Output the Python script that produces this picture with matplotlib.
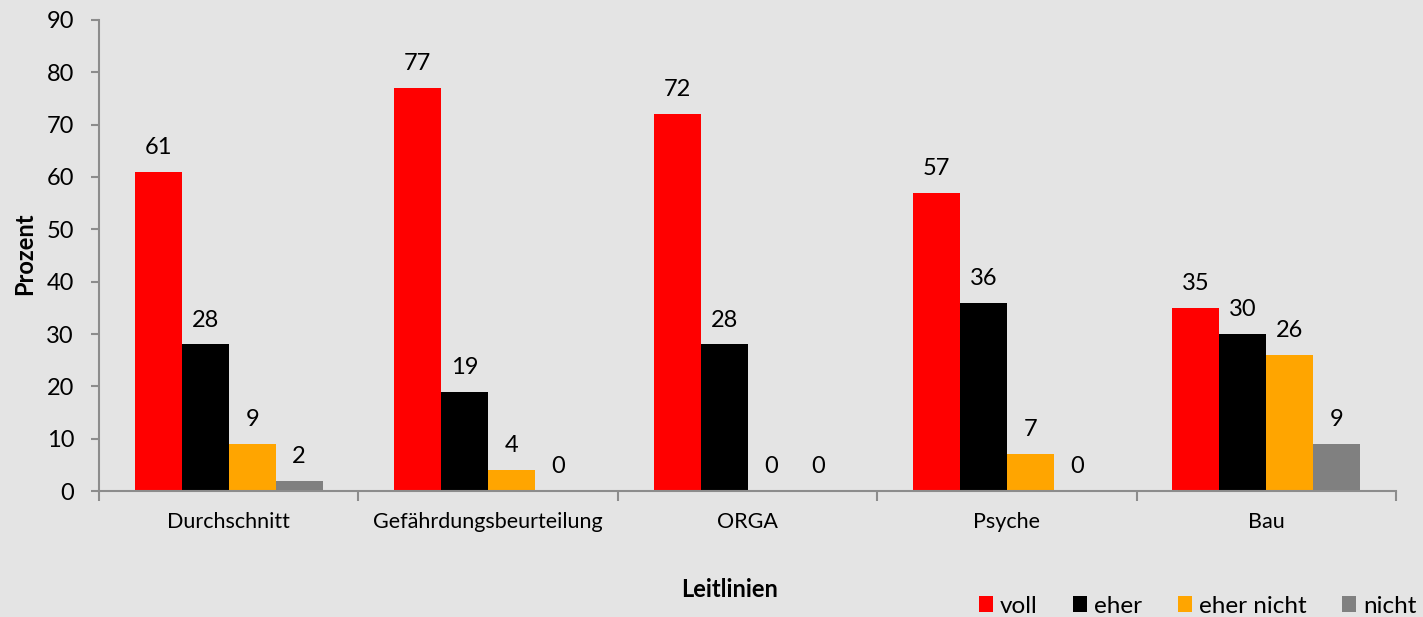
import matplotlib
matplotlib.use('Agg')
import matplotlib.pyplot as plt
import numpy as np
from matplotlib.patches import Patch

# data
categories = ['Durchschnitt', 'Gefährdungsbeurteilung', 'ORGA', 'Psyche', 'Bau']
series_names = ['voll', 'eher', 'eher nicht', 'nicht']
voll = [61, 77, 72, 57, 35]
eher = [28, 19, 28, 36, 30]
eher_nicht = [9, 4, 0, 7, 26]
nicht = [2, 0, 0, 0, 9]
series_colors = ['#ff0000', '#000000', '#ffa500', '#808080']

BG = '#e4e4e4'
AXIS_COLOR = '#8c8c8c'
FONT = ['Lato', 'DejaVu Sans']

plt.rcParams['font.family'] = FONT

fig = plt.figure(figsize=(14.23, 6.17), dpi=100, facecolor=BG)
ax = fig.add_axes([0.0696, 0.2042, 0.9114, 0.7634], facecolor=BG)

x = np.arange(len(categories))
bar_w = 0.181
all_series = [voll, eher, eher_nicht, nicht]
for i, (vals, color) in enumerate(zip(all_series, series_colors)):
    pos = x + (i - 1.5) * bar_w
    ax.bar(pos, vals, width=bar_w, color=color, edgecolor='none', zorder=2)
    for px, v in zip(pos, vals):
        ax.annotate(str(v), (px, v), xytext=(0, 10), textcoords='offset points',
                    ha='center', va='bottom', fontsize=17, color='black')

ax.set_xlim(-0.5, len(categories) - 0.5)
ax.set_ylim(0, 90)
ax.set_yticks(range(0, 91, 10))
ax.tick_params(axis='y', labelsize=17, length=6, width=1.5, color=AXIS_COLOR, pad=12)

# category ticks sit between groups
ax.set_xticks(np.arange(-0.5, len(categories), 1.0))
ax.set_xticklabels([])
ax.set_xticks(x, minor=True)
ax.set_xticklabels(categories, minor=True, fontsize=15.5)
ax.tick_params(axis='x', which='major', length=7, width=1.5, color=AXIS_COLOR)
ax.tick_params(axis='x', which='minor', length=0, pad=15)

for side in ['top', 'right']:
    ax.spines[side].set_visible(False)
for side in ['left', 'bottom']:
    ax.spines[side].set_color(AXIS_COLOR)
    ax.spines[side].set_linewidth(1.5)

fig.text(0.0172, 0.588, 'Prozent', rotation=90, ha='center', va='center',
         fontsize=17, fontweight='bold')
fig.text(0.513, 0.044, 'Leitlinien', ha='center', va='center',
         fontsize=17, fontweight='bold')

handles = [Patch(facecolor=c, edgecolor='none', label=n)
           for c, n in zip(series_colors, series_names)]
fig.legend(handles=handles, loc='lower right', bbox_to_anchor=(1.004, -0.019),
           ncol=4, frameon=False, fontsize=17.5, handlelength=0.58, handleheight=0.58,
           handletextpad=0.3, columnspacing=1.45, borderpad=0)

fig.savefig('out.png', dpi=100, facecolor=BG)
